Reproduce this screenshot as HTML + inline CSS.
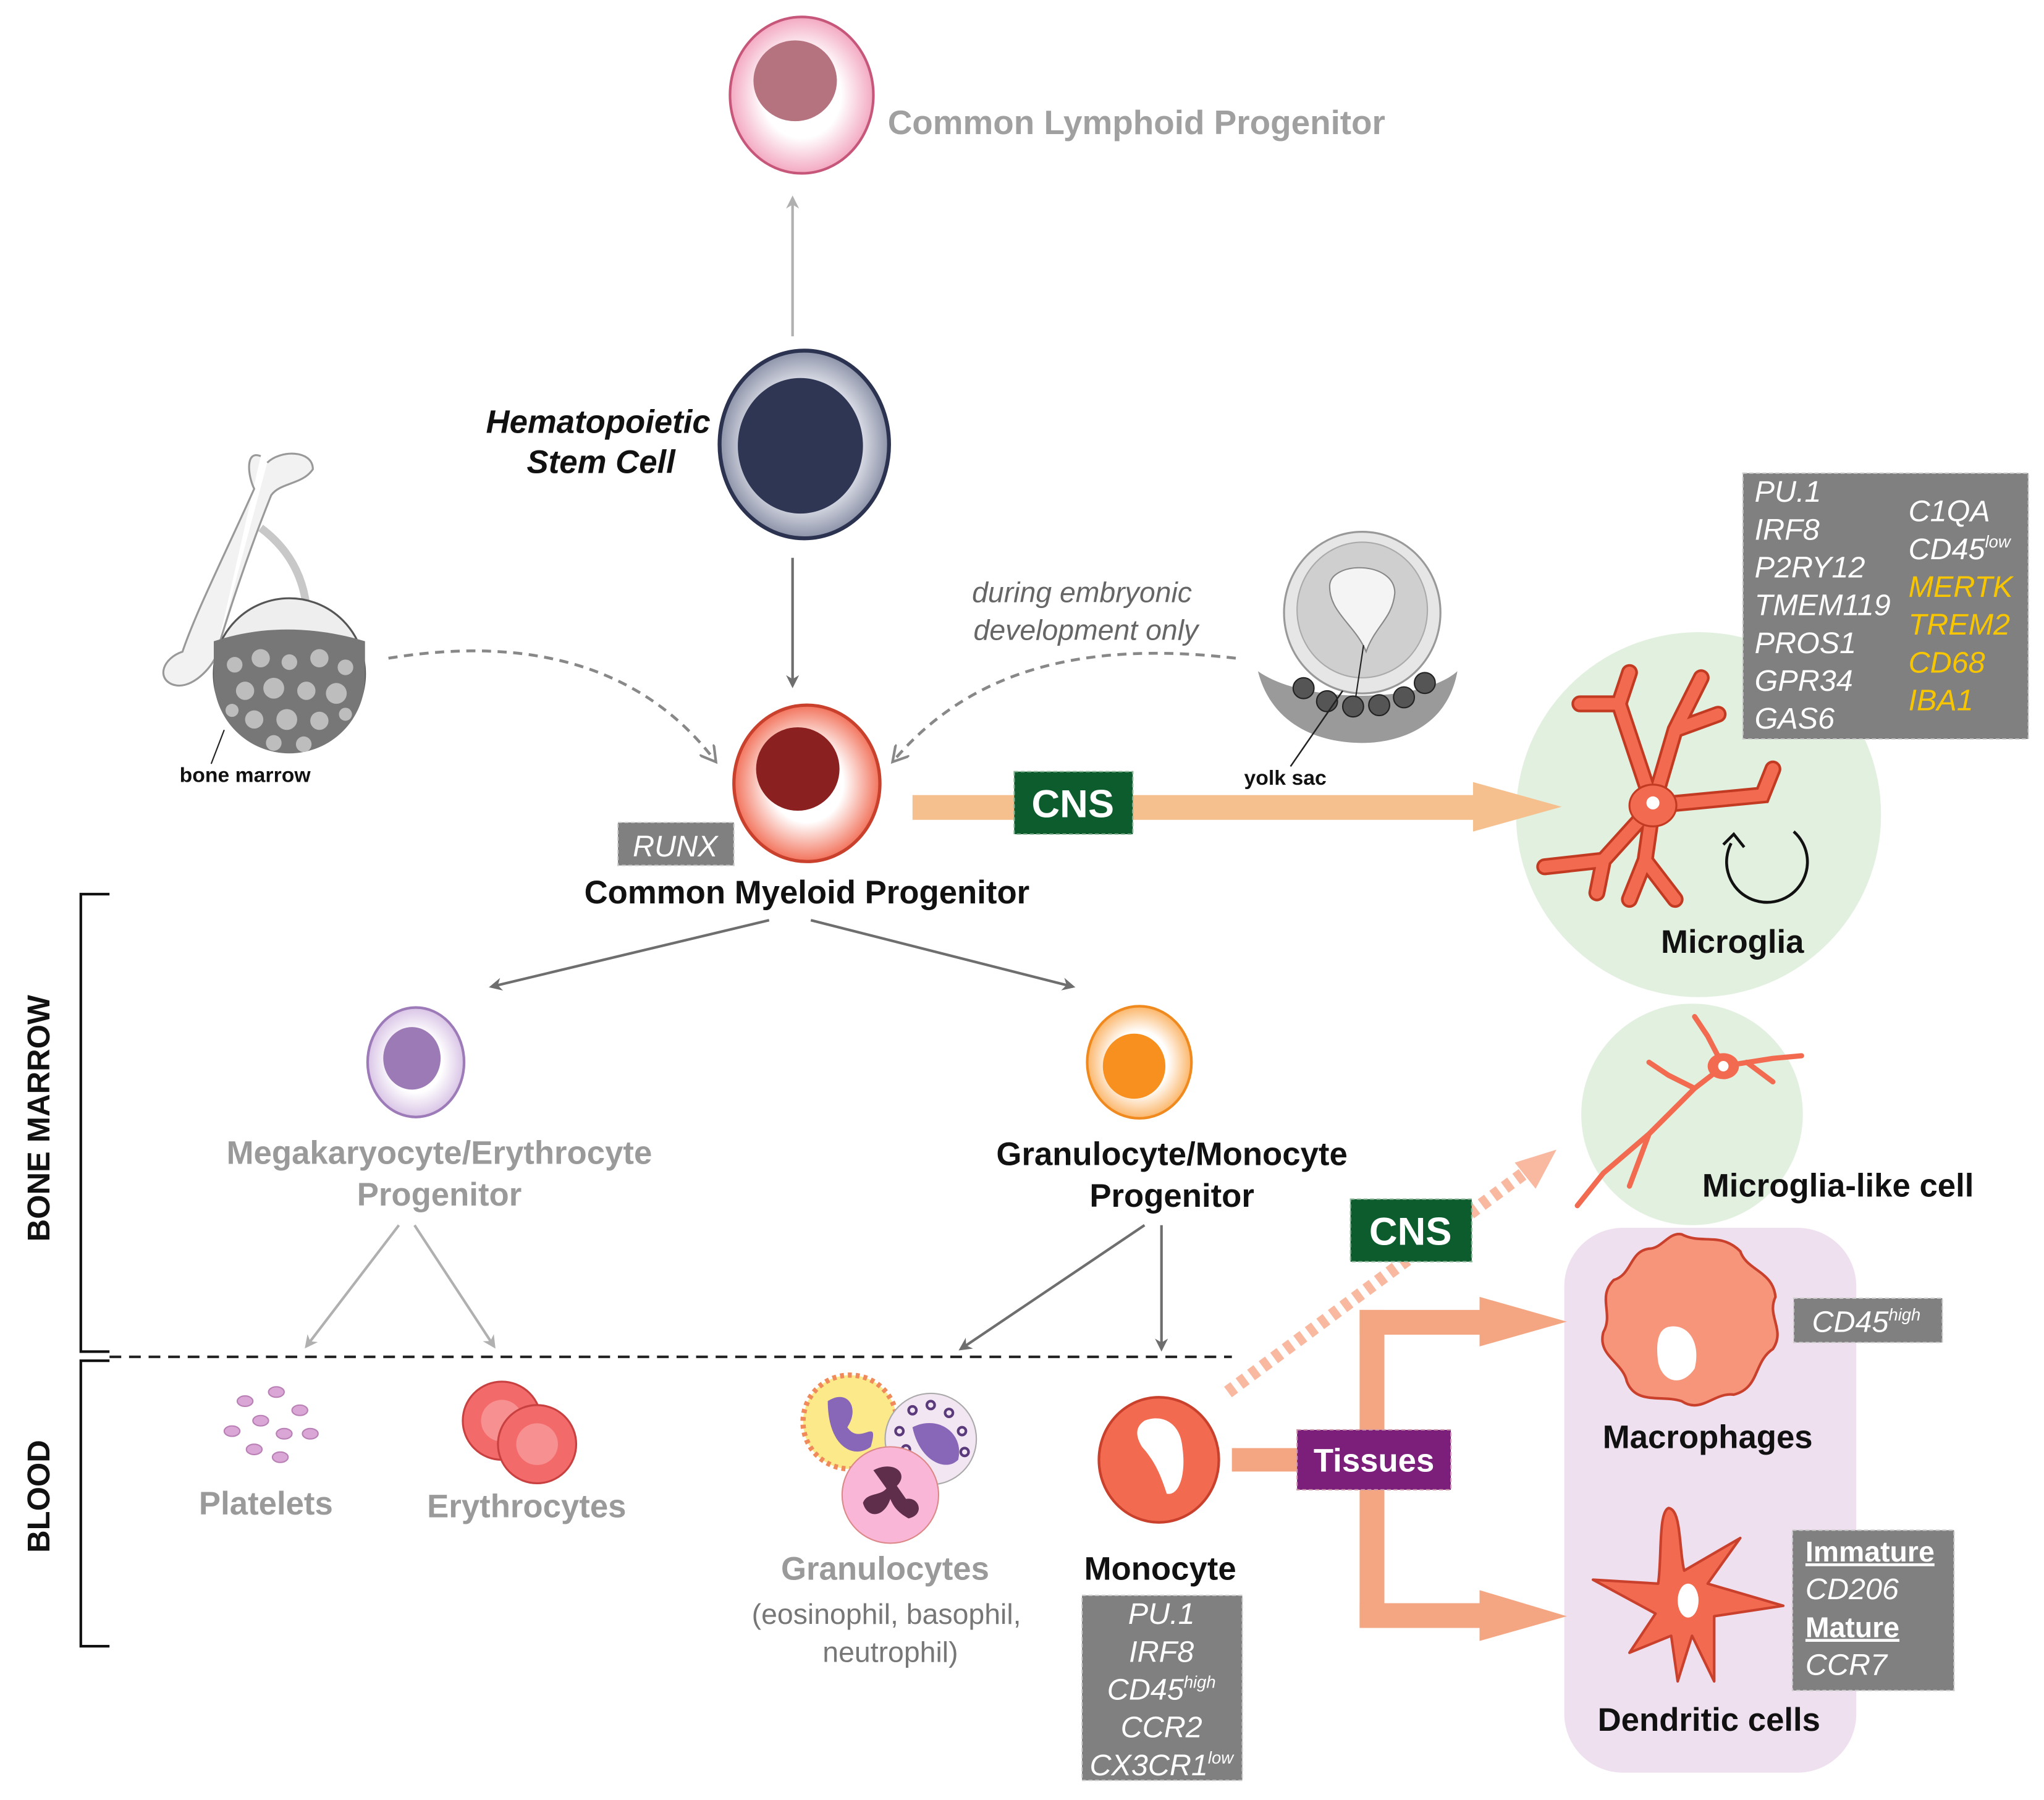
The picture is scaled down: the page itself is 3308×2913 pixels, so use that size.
<!DOCTYPE html>
<html><head><meta charset="utf-8"><style>
html,body{margin:0;padding:0;background:#fff}
svg{display:block}
text{font-family:"Liberation Sans",Arial,sans-serif}
.b{font-weight:bold}
.i{font-style:italic}
.mk{fill:#fff;font-style:italic;font-size:23px}
.y{fill:#f7c600}
</style></head><body>
<svg width="3308" height="2913" viewBox="0 0 1568 1381" preserveAspectRatio="none" xmlns="http://www.w3.org/2000/svg">
<defs>
<radialGradient id="gClp"><stop offset="0.55" stop-color="#fff"/><stop offset="1" stop-color="#f3a9c1"/></radialGradient>
<radialGradient id="gHsc"><stop offset="0.6" stop-color="#eceef4"/><stop offset="1" stop-color="#8c92a8"/></radialGradient>
<radialGradient id="gCmp"><stop offset="0.5" stop-color="#fff"/><stop offset="1" stop-color="#f2735c"/></radialGradient>
<radialGradient id="gMep"><stop offset="0.55" stop-color="#fff"/><stop offset="1" stop-color="#d9c4e6"/></radialGradient>
<radialGradient id="gGmp"><stop offset="0.55" stop-color="#fff"/><stop offset="1" stop-color="#fbb66a"/></radialGradient>
<marker id="ah" markerWidth="10" markerHeight="10" refX="8" refY="5" orient="auto" markerUnits="userSpaceOnUse"><path d="M0,0 L10,5 L0,10 L3,5z" fill="#6e6e6e"/></marker>
<marker id="ahl" markerWidth="10" markerHeight="10" refX="8" refY="5" orient="auto" markerUnits="userSpaceOnUse"><path d="M0,0 L10,5 L0,10 L3,5z" fill="#b0b0b0"/></marker>
<marker id="ahd" markerWidth="14" markerHeight="14" refX="10" refY="7" orient="auto" markerUnits="userSpaceOnUse"><path d="M0,0 L12,7 L0,14" fill="none" stroke="#888" stroke-width="2"/></marker>
</defs>

<ellipse cx="615" cy="73" rx="55" ry="60" fill="url(#gClp)" stroke="#c6577a" stroke-width="2"/>
<ellipse cx="610" cy="62" rx="32" ry="31" fill="#b5737f"/>
<text x="681" y="103" class="b" font-size="26" fill="#a0a0a0">Common Lymphoid Progenitor</text>
<line x1="608" y1="258" x2="608" y2="152" stroke="#b0b0b0" stroke-width="2" marker-end="url(#ahl)"/>

<ellipse cx="617" cy="341" rx="65" ry="72" fill="url(#gHsc)" stroke="#2c3350" stroke-width="3"/>
<ellipse cx="614" cy="342" rx="48" ry="52" fill="#2e3654"/>
<text x="545" y="332" text-anchor="end" class="b i" font-size="25" fill="#111">Hematopoietic</text>
<text x="518" y="363" text-anchor="end" class="b i" font-size="25" fill="#111">Stem Cell</text>
<line x1="608" y1="428" x2="608" y2="526" stroke="#6e6e6e" stroke-width="2" marker-end="url(#ah)"/>

<path d="M200,350 C188,345 190,365 195,375 C175,420 150,470 140,500 C125,505 120,520 132,525 C145,530 160,515 165,505" fill="#f2f2f2" stroke="#999" stroke-width="1.5"/>
<path d="M205,355 C215,345 240,345 240,360 C232,372 215,370 208,380 C192,420 175,470 165,505" fill="#f2f2f2" stroke="#999" stroke-width="1.5"/>
<path d="M200,405 C220,420 232,440 235,465" fill="none" stroke="#c8c8c8" stroke-width="6"/>
<circle cx="222" cy="517" r="58" fill="#eeeeee" stroke="#555" stroke-width="1.5"/>
<path d="M164,520 A58,58 0 0 0 280,520 L280,492 C240,480 200,480 164,492z" fill="#777"/>
<g fill="#bdbdbd">
<circle cx="180" cy="510" r="6"/><circle cx="200" cy="505" r="7"/><circle cx="222" cy="508" r="6"/><circle cx="245" cy="505" r="7"/><circle cx="265" cy="512" r="6"/>
<circle cx="188" cy="530" r="7"/><circle cx="210" cy="528" r="8"/><circle cx="235" cy="530" r="7"/><circle cx="258" cy="532" r="8"/>
<circle cx="195" cy="552" r="7"/><circle cx="220" cy="552" r="8"/><circle cx="245" cy="553" r="7"/><circle cx="265" cy="548" r="5"/><circle cx="178" cy="545" r="5"/>
<circle cx="210" cy="570" r="6"/><circle cx="233" cy="571" r="6"/></g>
<line x1="172" y1="560" x2="162" y2="586" stroke="#222" stroke-width="1"/>
<text x="188" y="600" text-anchor="middle" class="b" font-size="16" fill="#111">bone marrow</text>

<path d="M298,505 C420,485 500,520 548,583" fill="none" stroke="#888" stroke-width="2.2" stroke-dasharray="7,5" marker-end="url(#ahd)"/>
<path d="M948,505 C820,490 740,520 686,583" fill="none" stroke="#888" stroke-width="2.2" stroke-dasharray="7,5" marker-end="url(#ahd)"/>
<text x="830" y="462" text-anchor="middle" class="i" font-size="22" fill="#666">during embryonic</text>
<text x="833" y="491" text-anchor="middle" class="i" font-size="22" fill="#666">development only</text>

<path d="M965,515 C1000,540 1090,540 1118,515 C1110,560 1070,570 1045,570 C1010,570 975,555 965,515z" fill="#9a9a9a"/>
<ellipse cx="1045" cy="470" rx="60" ry="62" fill="#e6e6e6" stroke="#999" stroke-width="1.5"/>
<ellipse cx="1045" cy="468" rx="50" ry="52" fill="#cfcfcf" stroke="#aaa"/>
<path d="M1020,450 C1020,430 1070,430 1070,455 C1068,475 1055,480 1048,500 C1040,480 1020,470 1020,450z" fill="#f4f4f4" stroke="#888"/>
<g fill="#555" stroke="#222"><circle cx="1000" cy="528" r="8"/><circle cx="1018" cy="538" r="8"/><circle cx="1038" cy="542" r="8"/><circle cx="1058" cy="541" r="8"/><circle cx="1077" cy="535" r="8"/><circle cx="1093" cy="524" r="8"/></g>
<line x1="1046" y1="495" x2="1040" y2="535" stroke="#222"/>
<line x1="1030" y1="530" x2="990" y2="588" stroke="#222" stroke-width="1.2"/>
<text x="986" y="602" text-anchor="middle" class="b" font-size="16" fill="#111">yolk sac</text>

<ellipse cx="619" cy="601" rx="56" ry="60" fill="url(#gCmp)" stroke="#c9402c" stroke-width="2.5"/>
<ellipse cx="612" cy="590" rx="32" ry="32" fill="#8b2020"/>
<rect x="474" y="631" width="89" height="33" fill="#808080" stroke="#ccc" stroke-dasharray="3,2"/>
<text x="518" y="657" text-anchor="middle" class="mk">RUNX</text>
<text x="619" y="693" text-anchor="middle" class="b" font-size="25" fill="#111">Common Myeloid Progenitor</text>

<circle cx="1303" cy="625" r="140" fill="#e2f0df"/>

<rect x="700" y="610" width="432" height="19" fill="#f5c08e"/>
<polygon points="1130,600 1198,619 1130,638" fill="#f5c08e"/>
<rect x="778" y="592" width="91" height="48" fill="#0d5c2e" stroke="#8fb89b" stroke-dasharray="3,2"/>
<text x="823" y="627" text-anchor="middle" class="b" font-size="30" fill="#fff">CNS</text>

<g fill="none" stroke="#c23a22" stroke-linecap="round" stroke-width="13">
<path d="M1268,618 L1242,540 L1212,540 M1242,540 L1250,516"/>
<path d="M1268,618 L1285,560 L1305,520 M1285,560 L1318,548"/>
<path d="M1268,618 L1352,610 L1360,590"/>
<path d="M1268,618 L1230,660 L1185,665 M1230,660 L1225,685"/>
<path d="M1268,618 L1262,660 L1250,690 M1262,660 L1285,690"/>
</g>
<g fill="none" stroke="#f26a4f" stroke-linecap="round" stroke-width="9">
<path d="M1268,618 L1242,540 L1212,540 M1242,540 L1250,516"/>
<path d="M1268,618 L1285,560 L1305,520 M1285,560 L1318,548"/>
<path d="M1268,618 L1352,610 L1360,590"/>
<path d="M1268,618 L1230,660 L1185,665 M1230,660 L1225,685"/>
<path d="M1268,618 L1262,660 L1250,690 M1262,660 L1285,690"/>
</g>
<ellipse cx="1268" cy="618" rx="18" ry="16" fill="#f26a4f" stroke="#c23a22" stroke-width="1.5"/>
<circle cx="1268" cy="616" r="5" fill="#fff"/>
<path d="M1376,638 A31,31 0 1 1 1328,647" fill="none" stroke="#111" stroke-width="2.2"/>
<path d="M1322,648 L1330,640 L1338,650" fill="none" stroke="#111" stroke-width="2.2"/>
<text x="1329" y="731" text-anchor="middle" class="b" font-size="25" fill="#111">Microglia</text>

<rect x="1337" y="363" width="219" height="204" fill="#808080" stroke="#ccc" stroke-dasharray="3,2"/>
<g class="mk"><text x="1346" y="385" class="mk">PU.1</text><text x="1346" y="414" class="mk">IRF8</text><text x="1346" y="443" class="mk">P2RY12</text><text x="1346" y="472" class="mk">TMEM119</text><text x="1346" y="501" class="mk">PROS1</text><text x="1346" y="530" class="mk">GPR34</text><text x="1346" y="559" class="mk">GAS6</text>
<text x="1464" y="400" class="mk">C1QA</text><text x="1464" y="429" class="mk">CD45<tspan font-size="13" dy="-9">low</tspan></text>
<text x="1464" y="458" class="mk y">MERTK</text><text x="1464" y="487" class="mk y">TREM2</text><text x="1464" y="516" class="mk y">CD68</text><text x="1464" y="545" class="mk y">IBA1</text></g>

<path d="M84,686 L62,686 L62,1037 L84,1037" fill="none" stroke="#111" stroke-width="2"/>
<path d="M84,1044 L62,1044 L62,1263 L84,1263" fill="none" stroke="#111" stroke-width="2"/>
<text transform="translate(38,858) rotate(-90)" text-anchor="middle" class="b" font-size="24" fill="#111">BONE MARROW</text>
<text transform="translate(38,1148) rotate(-90)" text-anchor="middle" class="b" font-size="24" fill="#111">BLOOD</text>
<line x1="84" y1="1041" x2="945" y2="1041" stroke="#222" stroke-width="2" stroke-dasharray="9,6"/>

<line x1="590" y1="706" x2="377" y2="757" stroke="#6e6e6e" stroke-width="2" marker-end="url(#ah)"/>
<line x1="622" y1="706" x2="823" y2="757" stroke="#6e6e6e" stroke-width="2" marker-end="url(#ah)"/>

<ellipse cx="319" cy="815" rx="37" ry="42" fill="url(#gMep)" stroke="#9d7ab8" stroke-width="2"/>
<ellipse cx="316" cy="812" rx="22" ry="24" fill="#9c7ab5"/>
<text x="337" y="893" text-anchor="middle" class="b" font-size="25" fill="#9a9a9a">Megakaryocyte/Erythrocyte</text>
<text x="337" y="925" text-anchor="middle" class="b" font-size="25" fill="#9a9a9a">Progenitor</text>
<line x1="306" y1="940" x2="235" y2="1033" stroke="#b0b0b0" stroke-width="2" marker-end="url(#ahl)"/>
<line x1="318" y1="940" x2="379" y2="1033" stroke="#b0b0b0" stroke-width="2" marker-end="url(#ahl)"/>

<ellipse cx="874" cy="815" rx="40" ry="43" fill="url(#gGmp)" stroke="#f08a1e" stroke-width="2"/>
<ellipse cx="870" cy="818" rx="24" ry="25" fill="#f7901e"/>
<text x="899" y="894" text-anchor="middle" class="b" font-size="25" fill="#111">Granulocyte/Monocyte</text>
<text x="899" y="926" text-anchor="middle" class="b" font-size="25" fill="#111">Progenitor</text>
<line x1="878" y1="940" x2="737" y2="1035" stroke="#6e6e6e" stroke-width="2" marker-end="url(#ah)"/>
<line x1="891" y1="940" x2="891" y2="1035" stroke="#6e6e6e" stroke-width="2" marker-end="url(#ah)"/>

<g fill="#d9a6d6" stroke="#b980b5"><ellipse cx="188" cy="1075" rx="6" ry="4"/><ellipse cx="212" cy="1068" rx="6" ry="4"/><ellipse cx="230" cy="1082" rx="6" ry="4"/><ellipse cx="200" cy="1090" rx="6" ry="4"/><ellipse cx="178" cy="1098" rx="6" ry="4"/><ellipse cx="218" cy="1100" rx="6" ry="4"/><ellipse cx="238" cy="1100" rx="6" ry="4"/><ellipse cx="195" cy="1112" rx="6" ry="4"/><ellipse cx="215" cy="1118" rx="6" ry="4"/></g>
<text x="204" y="1162" text-anchor="middle" class="b" font-size="25" fill="#9a9a9a">Platelets</text>
<circle cx="385" cy="1090" r="30" fill="#f26a6a" stroke="#c84040" stroke-width="1.5"/>
<circle cx="385" cy="1090" r="16" fill="#f79090"/>
<circle cx="412" cy="1108" r="30" fill="#f26a6a" stroke="#c84040" stroke-width="1.5"/>
<circle cx="412" cy="1108" r="16" fill="#f79090"/>
<text x="404" y="1164" text-anchor="middle" class="b" font-size="25" fill="#9a9a9a">Erythrocytes</text>

<circle cx="652" cy="1091" r="36" fill="#fbe98a" stroke="#f08a5a" stroke-width="4" stroke-dasharray="3,3"/>
<path d="M635,1075 C650,1065 660,1080 650,1095 C660,1110 675,1085 668,1110 C655,1120 635,1110 635,1075z" fill="#8866b8"/>
<circle cx="714" cy="1104" r="35" fill="#f3e6f3" stroke="#aaa"/>
<path d="M700,1095 C720,1085 740,1100 735,1120 C725,1130 705,1120 700,1095z" fill="#8866b8"/>
<g fill="none" stroke="#5a3a7a" stroke-width="2"><circle cx="700" cy="1082" r="3"/><circle cx="714" cy="1078" r="3"/><circle cx="728" cy="1084" r="3"/><circle cx="738" cy="1098" r="3"/><circle cx="740" cy="1114" r="3"/><circle cx="690" cy="1098" r="3"/><circle cx="695" cy="1112" r="3"/></g>
<circle cx="683" cy="1147" r="37" fill="#f9b6d6" stroke="#d88"/>
<path d="M670,1128 C685,1120 698,1130 688,1140 L695,1150 C705,1148 710,1162 697,1165 C688,1160 685,1155 683,1150 C678,1165 665,1165 662,1153 C665,1145 675,1148 680,1142z" fill="#5e2e4a"/>
<text x="679" y="1212" text-anchor="middle" class="b" font-size="25" fill="#9a9a9a">Granulocytes</text>
<text x="680" y="1246" text-anchor="middle" font-size="22" fill="#777">(eosinophil, basophil,</text>
<text x="683" y="1275" text-anchor="middle" font-size="22" fill="#777">neutrophil)</text>

<ellipse cx="889" cy="1120" rx="46" ry="48" fill="#f26a4f" stroke="#c9402c" stroke-width="2"/>
<path d="M878,1090 C890,1085 905,1090 907,1110 C910,1130 905,1148 895,1146 C890,1130 885,1120 876,1110 C870,1100 872,1094 878,1090z" fill="#fff"/>
<text x="890" y="1212" text-anchor="middle" class="b" font-size="25" fill="#111">Monocyte</text>
<rect x="830" y="1224" width="123" height="142" fill="#808080" stroke="#ccc" stroke-dasharray="3,2"/>
<text x="891" y="1246" text-anchor="middle" class="mk">PU.1</text>
<text x="891" y="1275" text-anchor="middle" class="mk">IRF8</text>
<text x="891" y="1304" text-anchor="middle" class="mk">CD45<tspan font-size="13" dy="-9">high</tspan></text>
<text x="891" y="1333" text-anchor="middle" class="mk">CCR2</text>
<text x="891" y="1362" text-anchor="middle" class="mk">CX3CR1<tspan font-size="13" dy="-9">low</tspan></text>

<circle cx="1298" cy="855" r="85" fill="#e2f0df"/>
<line x1="942" y1="1068" x2="1172" y2="898" stroke="#f9b8a0" stroke-width="10" stroke-dasharray="6,5"/>
<polygon points="1194,882 1162,892 1178,912" fill="#f9b8a0"/>
<rect x="1036" y="920" width="93" height="48" fill="#0d5c2e" stroke="#8fb89b" stroke-dasharray="3,2"/>
<text x="1082" y="955" text-anchor="middle" class="b" font-size="30" fill="#fff">CNS</text>

<g fill="none" stroke="#f26a4f" stroke-width="4" stroke-linecap="round">
<path d="M1322,818 L1300,835 L1265,870 L1230,900 L1210,925"/>
<path d="M1265,870 L1250,910"/><path d="M1300,835 L1280,825 L1265,815"/>
<path d="M1322,818 L1310,795 L1300,780"/><path d="M1322,818 L1360,812 L1382,810"/><path d="M1340,815 L1360,830"/>
</g>
<ellipse cx="1322" cy="818" rx="12" ry="10" fill="#f26a4f"/><circle cx="1322" cy="818" r="4" fill="#fff"/>
<text x="1410" y="918" text-anchor="middle" class="b" font-size="25" fill="#111">Microglia-like cell</text>

<rect x="1200" y="942" width="224" height="418" rx="45" fill="#efe0ef"/>
<rect x="945" y="1111" width="52" height="18" fill="#f4a582"/>
<rect x="1043" y="1005" width="19" height="243" fill="#f4a582"/>
<rect x="1043" y="1005" width="94" height="19" fill="#f4a582"/>
<polygon points="1135,995 1202,1014 1135,1033" fill="#f4a582"/>
<rect x="1043" y="1230" width="94" height="19" fill="#f4a582"/>
<polygon points="1135,1220 1202,1240 1135,1259" fill="#f4a582"/>
<rect x="995" y="1097" width="118" height="46" fill="#7b1f7b" stroke="#c9a" stroke-dasharray="3,2"/>
<text x="1054" y="1129" text-anchor="middle" class="b" font-size="25" fill="#fff">Tissues</text>

<path d="M1290,947 C1305,955 1320,945 1335,960 C1340,975 1360,975 1362,995 C1355,1010 1370,1020 1360,1035 C1345,1045 1350,1065 1330,1070 C1315,1068 1305,1085 1290,1075 C1275,1070 1255,1078 1248,1060 C1245,1045 1225,1040 1230,1022 C1238,1008 1225,995 1238,982 C1252,978 1250,960 1265,958 C1275,958 1280,945 1290,947z" fill="#f7957a" stroke="#c9402c" stroke-width="2"/>
<path d="M1280,1018 C1295,1015 1305,1030 1300,1050 C1290,1065 1275,1060 1272,1045 C1270,1030 1272,1020 1280,1018z" fill="#fff"/>
<text x="1310" y="1111" text-anchor="middle" class="b" font-size="25" fill="#111">Macrophages</text>
<rect x="1376" y="996" width="114" height="34" fill="#808080" stroke="#ccc" stroke-dasharray="3,2"/>
<text x="1390" y="1022" class="mk">CD45<tspan font-size="13" dy="-9">high</tspan></text>

<path d="M1280,1157 C1290,1158 1288,1190 1292,1205 L1335,1180 L1310,1215 L1368,1232 L1315,1240 L1315,1290 L1298,1255 L1287,1290 L1282,1255 L1250,1268 L1270,1238 L1222,1212 L1272,1215 C1275,1195 1272,1160 1280,1157z" fill="#f26a4f" stroke="#c9402c" stroke-width="2" stroke-linejoin="round"/>
<ellipse cx="1295" cy="1228" rx="8" ry="13" fill="#fff"/>
<text x="1311" y="1328" text-anchor="middle" class="b" font-size="25" fill="#111">Dendritic cells</text>
<rect x="1375" y="1174" width="124" height="123" fill="#808080" stroke="#ccc" stroke-dasharray="3,2"/>
<text x="1385" y="1198" class="b" font-size="22" fill="#fff" text-decoration="underline">Immature</text>
<text x="1385" y="1227" class="mk">CD206</text>
<text x="1385" y="1256" class="b" font-size="22" fill="#fff" text-decoration="underline">Mature</text>
<text x="1385" y="1285" class="mk">CCR7</text>
</svg>
</body></html>
